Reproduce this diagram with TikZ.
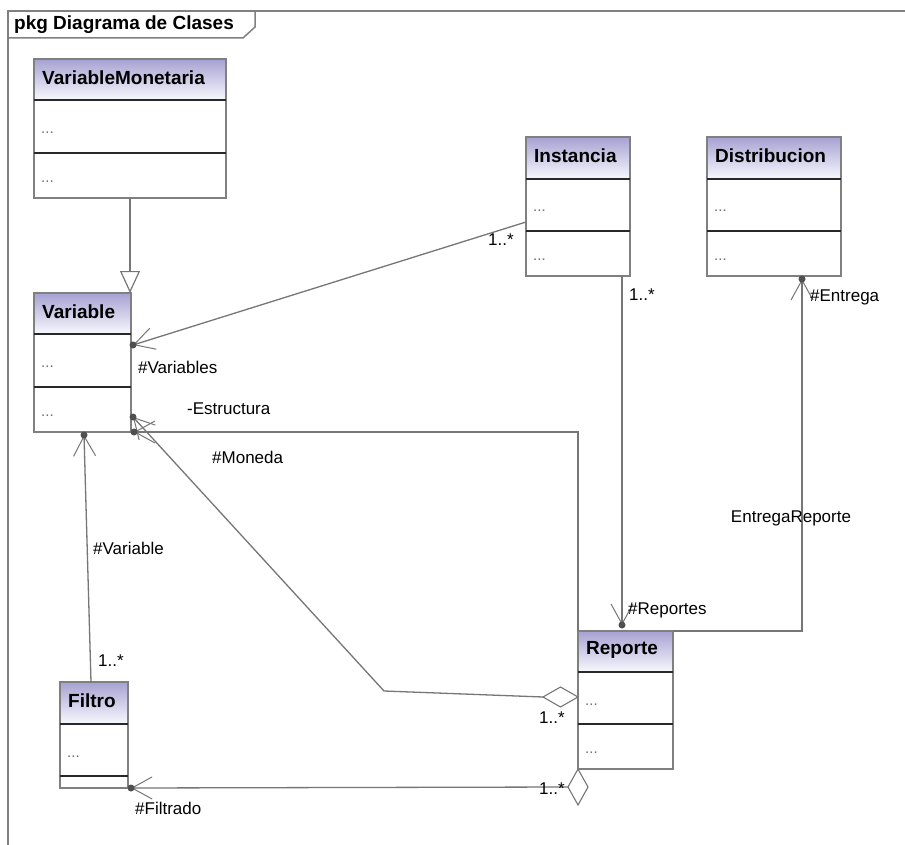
\documentclass[tikz,border=0pt]{standalone}
\usepackage{fontspec}
\setmainfont{Liberation Sans}
\usetikzlibrary{arrows.meta,calc,fit}

\definecolor{linegray}{RGB}{118,118,118}
\definecolor{boxgray}{RGB}{128,128,128}
\definecolor{compline}{RGB}{40,40,40}
\definecolor{hdtop}{RGB}{166,162,210}
\definecolor{hdbot}{RGB}{248,248,253}
\definecolor{dotgray}{RGB}{80,80,80}
\definecolor{ellgray}{RGB}{110,110,110}

\tikzset{
  classbox/.style={draw=boxgray, line width=1.5pt, inner sep=0pt, outer sep=0pt, rectangle},
  classtitle/.style={font=\fontsize{19}{22}\selectfont\bfseries, text=black, inner sep=0pt, anchor=west},
  ellipsis/.style={font=\fontsize{15}{17}\selectfont, text=ellgray, inner sep=0pt, anchor=base west},
  compsep/.style={draw=compline, line width=1.3pt},
  assoc/.style={draw=linegray, line width=1.3pt},
  navend/.style={-{Straight Barb[length=20pt,width=22pt,line width=1pt]}},
  genend/.style={-{Triangle[open,length=22pt,width=20pt,line width=1.2pt]}},
  aggdiamond/.style={draw=linegray, fill=white, line width=1.1pt},
  ownerdot/.style={circle, fill=dotgray, inner sep=0pt, minimum size=7pt},
  rolelabel/.style={font=\fontsize{17}{20}\selectfont, text=black, inner sep=0pt, anchor=west},
  framebox/.style={draw=boxgray, line width=1.5pt},
}

% #1 name, #2 left, #3 top, #4 right, #5 bottom, #6 header bottom,
% #7 compartment separator, #8 title, #9 ellipsis in lower compartment (1/0)
\newcommand{\umlclass}[9]{%
  \shade[top color=hdtop, bottom color=hdbot] (#2,#3) rectangle (#4,#6);
  \node[classbox, fit={(#2,#3) (#4,#5)}] (#1) {};
  \draw[compsep] (#2,#6) -- (#4,#6) (#2,#7) -- (#4,#7);
  \node[classtitle] (#1-name) at ({#2+8},{(#3+#6)/2-2}) {#8};
  \node[ellipsis] (#1-attr) at ({#2+7},{(#6+#7)/2+7}) {...};
  \ifnum#9=1 \node[ellipsis] (#1-ops) at ({#2+7},{(#7+#5)/2+7}) {...};\fi
}

\begin{document}
\begin{tikzpicture}[x=1pt,y=-1pt]
\useasboundingbox (0,0) rectangle (905,845);
\fill[white] (0,0) rectangle (905,845);

% package frame and its name tab
\draw[framebox] (8,845) -- (8,11) -- (905,11);
\draw[framebox] (8,38) -- (243,38) -- (255,27) -- (255,11);
\node[font=\fontsize{19}{22}\selectfont\bfseries, anchor=west, inner sep=0pt] (pkgname) at (14,25) {pkg Diagrama de Clases};

% classes
\umlclass{VarMon}{34}{59}{226}{198}{100}{153}{VariableMonetaria}{1}
\umlclass{Variable}{34}{293}{131}{432}{334}{387}{Variable}{1}
\umlclass{Instancia}{526}{137}{630}{276}{179}{231}{Instancia}{1}
\umlclass{Distribucion}{707}{137}{841}{276}{179}{231}{Distribucion}{1}
\umlclass{Reporte}{578}{631}{673}{769}{672}{724}{Reporte}{1}
\umlclass{Filtro}{60}{682}{128}{788}{724}{776}{Filtro}{0}

% generalization VariableMonetaria -> Variable
\draw[assoc, genend] (VarMon.south) -- (VarMon.south |- Variable.north);

% Instancia -> Variable
\coordinate (instL) at ($(Instancia.north west)+(0,85)$);
\coordinate (varV) at ($(Variable.north east)+(2,52)$);
\draw[assoc, navend] (instL) -- (varV);

% Instancia -> Reporte
\coordinate (instB) at ($(Instancia.south east)+(-8,0)$);
\coordinate (repT) at ($(instB |- Reporte.north)+(0,-6)$);
\draw[assoc, navend] (instB) -- (repT);

% EntregaReporte: Reporte -> Distribucion
\coordinate (distB) at ($(Distribucion.south west)+(95,3)$);
\coordinate (entCorner) at (distB |- Reporte.north);
\draw[assoc, navend] (Reporte.north east) -- (entCorner) -- (distB);

% Estructura: Reporte -> Variable
\coordinate (estCorner) at (Reporte.north west |- Variable.south);
\coordinate (varE) at ($(Variable.south east)+(3,0)$);
\draw[assoc, navend] (Reporte.north west) -- (estCorner) -- (varE);

% Moneda: Reporte (aggregation) -> Variable
\coordinate (monTip) at ($(Reporte.north west)+(0,66)$);
\coordinate (monBack) at ($(monTip)+(-35,0)$);
\coordinate (monBend) at (384,691);
\coordinate (varM) at ($(Variable.south east)+(2,-15)$);
\draw[assoc, navend] (monBack) -- (monBend) -- (varM);
\draw[aggdiamond] (monTip) -- ++(-17.5,-10) -- ++(-17.5,10) -- ++(17.5,10) -- cycle;

% Filtro -> Variable
\coordinate (filN) at ($(Filtro.north)+(-3,0)$);
\coordinate (varF) at ($(Variable.south west)+(50,3)$);
\draw[assoc, navend] (filN) -- (varF);

% Filtrado: Reporte (aggregation) -> Filtro
\coordinate (filTip) at ($(Reporte.south west)+(-10,18)$);
\coordinate (filE) at ($(Filtro.south east)+(3,0)$);
\draw[assoc, navend] (filTip) -- (filE);
\draw[aggdiamond] (Reporte.south west) -- ++(10,18) -- ++(-10,18) -- ++(-10,-18) -- cycle;

% ownership dots at the navigable ends
\foreach \p in {varV, repT, distB, varE, varM, varF, filE}
  \node[ownerdot] at (\p) {};

% role names and multiplicities
\node[rolelabel] (lVariables) at (138,367) {\#Variables};
\node[rolelabel] (lEstructura) at (187,409) {-Estructura};
\node[rolelabel] (lMoneda) at (212,457) {\#Moneda};
\node[rolelabel] (lVariable) at (93,548) {\#Variable};
\node[rolelabel] (lFilMult) at (98,661) {1..*};
\node[rolelabel] (lFiltrado) at (135,808) {\#Filtrado};
\node[rolelabel] (lInstMult1) at (488,240) {1..*};
\node[rolelabel] (lInstMult2) at (629,295) {1..*};
\node[rolelabel] (lEntrega) at (810,297) {\#Entrega};
\node[rolelabel] (lReportes) at (628,610) {\#Reportes};
\node[rolelabel, anchor=center] (lEntregaRep) at (791,518) {EntregaReporte};
\node[rolelabel] (lMonMult) at (539,718) {1..*};
\node[rolelabel] (lFilMult2) at (539,789) {1..*};
\end{tikzpicture}
\end{document}
